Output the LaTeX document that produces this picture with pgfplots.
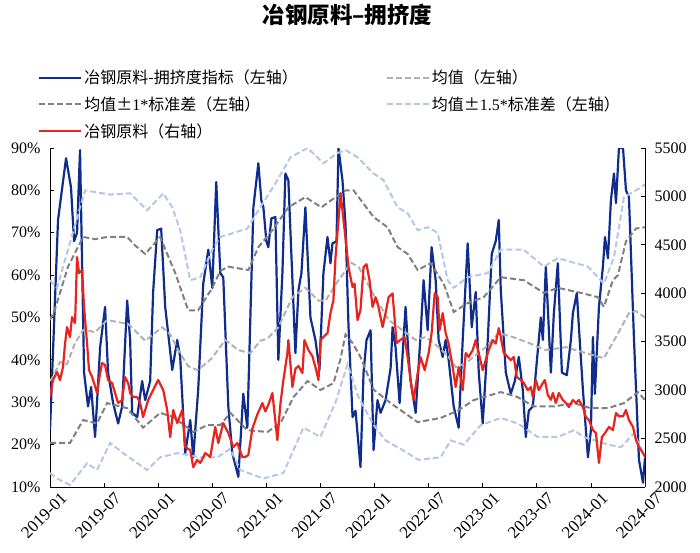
\documentclass[border=0pt]{standalone}
\usepackage{fontspec}
\setmainfont{Liberation Serif}
\newfontfamily\cjk{Noto Sans CJK SC}
\usepackage{pgfplots}
\pgfplotsset{compat=1.18}
\definecolor{cblue}{RGB}{16,44,140}
\definecolor{cred}{RGB}{232,36,30}
\definecolor{cmean}{RGB}{178,178,178}
\definecolor{csd}{RGB}{128,128,128}
\definecolor{csdb}{RGB}{180,199,231}
\pgfplotsset{
  common/.style={
    at={(0pt,0pt)}, anchor=south west,
    scale only axis, width=595pt, height=339pt,
    xmin=0, xmax=66,
    tick align=inside, major tick length=4pt,
    tick style={black, line width=0.8pt},
    axis line style={black, line width=0.8pt},
    every tick label/.append style={font=\fontsize{16}{19}\selectfont},
    /pgf/number format/assume math mode=true,
    /pgf/number format/1000 sep={},
  },
  dsh/.style={dash pattern=on 6pt off 3pt, line width=2pt},
}
\begin{document}
\begin{tikzpicture}
\useasboundingbox (-50pt,-66pt) rectangle (650pt,487pt);
\begin{axis}[common,
  ymin=10, ymax=90,
  axis x line*=bottom, axis y line*=left,
  xtick={0,6,...,66},
  xticklabels={2019-01,2019-07,2020-01,2020-07,2021-01,2021-07,2022-01,2022-07,2023-01,2023-07,2024-01,2024-07},
  xticklabel style={rotate=45, anchor=north east, inner sep=1pt, yshift=-9pt, xshift=5pt, font=\fontsize{17}{20}\selectfont},
  ytick={10,20,...,90},
  yticklabel={\pgfmathprintnumber{\tick}\%},
  yticklabel style={xshift=-6pt},
  title={\cjk\bfseries 冶钢原料–拥挤度},
  title style={at={(0.5,1)}, anchor=center, yshift=127pt, font=\fontsize{22.5}{26}\selectfont},
  legend columns=2,
  legend style={at={(-0.0202,1.236)}, anchor=north west, draw=none, fill=none,
    font=\fontsize{16}{19}\selectfont, inner sep=0pt, row sep=7.5pt,
    /tikz/every even column/.append style={column sep=86pt}},
  legend cell align=left,
  legend image code/.code={\draw[#1] (0pt,0pt) -- (42pt,0pt);},
]
\addplot[cblue, line width=2.2pt, line join=round] coordinates {
(0,23.4)(0.89,73)(1.78,87.6)(2.33,80.7)(2.67,68)(3,70)(3.33,89.5)(3.78,37)(4.22,29)(4.56,33.6)(5,21.8)(5.56,43)(6.11,52.5)(6.44,37)(7,29.8)(7.56,25)(8,29)(8.56,54)(8.89,44.7)(9.11,27.5)(9.67,26.5)(10.22,35)(10.56,30.5)(11.11,35)(11.44,56)(11.89,70.6)(12.33,71)(12.78,52.5)(13.56,37.6)(14.11,44.7)(14.44,40.7)(15,18)(15.56,25.8)(15.89,17)(16.44,33)(17,58)(17.56,66)(18,57)(18.44,82)(18.89,60.5)(19.22,59.5)(19.78,29)(20.22,18)(20.89,12.4)(21.44,32)(21.89,24)(22.56,76)(23.11,86.4)(23.44,77.7)(23.67,76)(24,68)(24.22,66.6)(24.56,73.4)(25,73.7)(25.33,40)(25.78,60.5)(26.11,84)(26.44,82.4)(27.22,41.6)(27.56,56.5)(27.89,60.5)(28.33,76)(28.89,50)(29.44,44.7)(29.89,37.6)(30.33,60.5)(30.78,69)(31.11,62.8)(31.33,67.5)(31.78,68)(32,90)(32.44,82.4)(32.78,72)(33.11,48)(33.56,26.5)(33.89,28)(34.44,14.7)(34.78,37)(35.11,44.7)(35.56,47)(35.89,18.7)(36.33,30.5)(36.67,27.5)(37.22,30.5)(37.78,38)(38,47.7)(38.33,43)(38.78,29.8)(39.44,52.5)(39.78,40.7)(40,35)(40.56,27.5)(41.11,46)(41.44,58.8)(41.89,47)(42.33,66.6)(42.78,58.8)(43.11,44.7)(43.56,40.7)(43.89,44.7)(44.22,40)(44.78,29)(45.33,24)(45.78,44.7)(46.33,67.5)(46.78,47.7)(47.22,56)(47.56,37)(48,25)(48.56,44.7)(49,65)(49.44,68)(49.78,73)(50,56.5)(50.56,37)(51.11,32)(51.56,35)(52,40.7)(52.44,33)(52.78,21.8)(53.11,28)(53.56,29)(53.89,37)(54.44,50)(54.67,44.7)(55,62)(55.56,37)(55.89,51)(56.33,62.8)(56.78,37)(57.33,36.4)(57.78,44.7)(58,51)(58.44,55.8)(58.67,47.7)(59.11,33)(59.67,17)(60,23.4)(60.22,45.4)(60.44,32)(60.89,52.5)(61.33,62)(61.56,69)(61.89,64)(62.22,77.7)(62.56,84)(62.78,77)(63.11,90)(63.56,90)(63.89,80)(64.22,78.4)(64.78,44.7)(65.33,16.4)(65.78,11)(66,17)
};
\addlegendentry{\cjk 冶钢原料-拥挤度指标（左轴）}
\addplot[cmean, dsh] coordinates {
(0,35)(0.33,36)(1.11,39.5)(1.89,39)(2.78,44)(3.67,47)(4.11,47)(5,46.5)(6.33,49.4)(8.11,48.7)(8.67,48.5)(10.56,44.5)(12.44,47.7)(13.33,46)(14.22,42.3)(15.33,38.5)(16.33,37.6)(17.22,39)(18,40.5)(19.44,44.7)(20.89,42.3)(22.22,41.6)(23.33,44.5)(24.11,45)(25.33,47.7)(26.89,54.8)(28.33,57)(29.78,54)(30.56,54)(32,58.8)(32.78,61)(33.33,63)(34.22,62)(35.78,55.8)(37.56,49.4)(39.11,47)(40.56,44.7)(41.67,45.4)(43.11,43)(44.22,40.7)(45,38.3)(46.11,39.2)(48.33,43)(49.78,46.3)(51.33,45.4)(53.11,44)(55,42.3)(57.22,43)(59.44,41.6)(61.44,40.4)(62.78,45.4)(64.22,51)(65,51.5)(66,50)
};
\addlegendentry{\cjk 均值（左轴）}
\addplot[csd, dsh] coordinates {
(0,49.4)(0.56,52)(2,62)(3.67,69)(5,68.5)(6.33,69)(8.56,69)(9.44,67)(10.56,65)(12.22,69)(13.89,60.5)(15.33,51.7)(16.44,51.7)(18,57)(18.89,61)(19.78,62)(22,61.2)(23.11,66.6)(24.67,70.6)(26.44,76)(28.33,78.4)(30.11,76)(31.67,78.4)(32.78,80)(33.67,80)(35.89,73.7)(37.44,71.3)(38.56,66.6)(39.67,65)(40.78,61.2)(42.22,62.8)(43.67,58)(44.78,51.3)(46.33,53.4)(48.11,54.8)(50,59.5)(52.56,58.8)(54.78,55.8)(56.33,57)(58.89,55.8)(60.78,54.8)(61.44,52.5)(62.44,58.8)(63,60)(63.89,68)(65,71)(66,71.3)
};
\addlegendentry{{\cjk 均值±}1*{\cjk 标准差（左轴）}}
\addplot[csdb, dsh] coordinates {
(0,58.8)(0.78,57)(2,66)(3.33,76)(3.89,80)(6.67,79)(8.89,79.3)(10.78,75.3)(12.56,79.3)(13.56,76)(14.44,70.6)(15.56,58.8)(16.67,59.5)(18,66)(18.89,69)(21.89,71)(23.33,76)(25.22,82.4)(26.67,87.8)(28.56,90)(30.33,86.4)(31.89,88.8)(32.78,89.5)(34.11,87.8)(35.89,84)(37,82.4)(38.56,76)(39.67,74.6)(40.78,70.6)(41.89,71.3)(43,70)(44.11,58.8)(44.78,57)(46.33,59.5)(48.56,60.5)(50,66)(52.56,66)(54.78,62)(56.33,64)(59.67,62)(61.44,58)(62.56,64.2)(63.67,78.4)(65.56,80.7)(66,81.5)
};
\addlegendentry{{\cjk 均值±}1.5*{\cjk 标准差（左轴）}}
\addplot[csd, dsh, forget plot] coordinates {
(0,20.4)(2.22,20.4)(3.67,25.8)(5.22,25)(6.33,29.8)(8.56,28.6)(10.33,24)(12.22,27.5)(13.67,26.5)(15.89,23)(17.44,24.6)(18.89,24.6)(20,27.5)(21.89,23.4)(24.11,23)(25.56,25)(27,31.2)(28.56,35)(30,32.9)(31.44,34.5)(32.2,40)(32.78,46)(33.56,44)(34.44,40.7)(35.89,33)(37.78,29.8)(40.78,25.3)(43.33,26.3)(45.22,28)(47,30.5)(50,32.4)(51.89,31.2)(53.67,29)(55.89,29)(58.11,29.8)(60,28.6)(61.89,28.6)(63.67,29.8)(65.22,32.4)(66,30.5)
};
\addplot[csdb, dsh, forget plot] coordinates {
(0,13.3)(0.78,12)(2.22,10.5)(4.11,15.6)(5.22,14)(6.67,20.4)(8.11,18)(10.78,14)(12.22,17)(14.11,18)(16.67,17)(18.56,17)(20,19)(21.11,14)(23.67,12)(25.89,13.3)(28.11,24)(30,21.8)(31.67,30)(33,39)(34.22,31.2)(35.78,25)(37.22,21)(39.11,18.7)(40.89,16.4)(42.44,16.8)(43.33,17)(44.44,21)(45.89,20)(47.78,24.6)(50,26.3)(51.89,25)(54.11,21.8)(56.33,21.8)(58.11,23.4)(59.22,21.8)(61.89,20)(63.33,19.4)(64.78,22.7)(66,17)
};
\addlegendimage{cred, line width=2.2pt}
\addlegendentry{\cjk 冶钢原料（右轴）}
\end{axis}
\begin{axis}[common,
  ymin=2000, ymax=5500,
  axis y line*=right, axis x line=none,
  ytick={2000,2500,...,5500},
  yticklabel style={xshift=6pt},
]
\addplot[cred, line width=2.2pt, line join=round] coordinates {
(0,2929)(0.33,3104)(0.78,3187)(1.11,3104)(1.44,3238)(1.67,3480)(1.89,3651)(2.22,3548)(2.44,3754)(2.78,3692)(3,4374)(3.22,4208)(3.56,4240)(3.78,3858)(4.11,3486)(4.33,3207)(4.67,3135)(4.89,3073)(5.22,2970)(5.56,3176)(5.78,3280)(6.11,3259)(6.44,3104)(6.89,3073)(7.22,2970)(7.56,2867)(8,2898)(8.33,3135)(8.67,3073)(8.89,2970)(9.22,2929)(9.67,2929)(10,2867)(10.33,2722)(10.89,2898)(11.44,3000)(12,3104)(12.56,3000)(13,2795)(13.33,2516)(13.67,2795)(14.11,2660)(14.67,2795)(15,2413)(15.56,2380)(15.89,2206)(16.33,2280)(16.67,2248)(17.22,2350)(17.78,2310)(18.33,2620)(18.67,2454)(19.22,2660)(19.78,2557)(20.33,2413)(20.78,2454)(21.33,2310)(21.67,2310)(22,2330)(22.44,2600)(23,2750)(23.56,2867)(23.89,2780)(24.22,2850)(24.67,2970)(25.22,2485)(25.56,2860)(25.89,3104)(26.33,3383)(26.44,3517)(26.89,3032)(27.22,3220)(27.56,3250)(28,3176)(28.22,3517)(28.67,3414)(29.11,3350)(29.44,3238)(29.78,3104)(30,3517)(30.33,3548)(30.78,3589)(31.11,3795)(31.44,3930)(31.67,4374)(32,4755)(32.22,5034)(32.56,4755)(33,4374)(33.11,4270)(33.56,4064)(33.78,4100)(34.11,3723)(34.44,3826)(34.78,4270)(35.11,4300)(35.44,4136)(35.78,3858)(36.11,3960)(36.44,3858)(36.89,3651)(37.22,3795)(37.56,3960)(38,4000)(38.44,3486)(38.89,3520)(39.33,3548)(39.67,3342)(40,3104)(40.33,2898)(40.78,3176)(41.11,3340)(41.56,3207)(42,3383)(42.33,3589)(42.67,4000)(43,3960)(43.22,3620)(43.56,3795)(43.89,3589)(44.22,3480)(44.67,3238)(45,3032)(45.33,3238)(45.78,3000)(46.11,3383)(46.44,3342)(46.89,3414)(47.22,3517)(47.56,3383)(48,3207)(48.33,3310)(48.67,3414)(49.11,3517)(49.44,3480)(49.78,3640)(50,3548)(50.33,3383)(50.78,3342)(51.11,3310)(51.44,3342)(51.78,3135)(52.22,3104)(52.56,3073)(53,3000)(53.33,3032)(53.56,2929)(53.89,3104)(54.22,3000)(54.67,3073)(54.89,3104)(55.22,2950)(55.56,2900)(55.78,2970)(56.11,2867)(56.44,2970)(56.89,2898)(57.22,2867)(57.56,2826)(58,2898)(58.33,2867)(58.67,2898)(59.11,2826)(59.44,2722)(59.78,2691)(60.22,2588)(60.56,2557)(60.89,2248)(61.22,2516)(61.56,2557)(62,2620)(62.44,2588)(62.78,2764)(63.11,2730)(63.56,2730)(63.89,2795)(64.22,2691)(64.67,2620)(65,2485)(65.33,2413)(65.78,2350)(66,2310)
};
\end{axis}
\end{tikzpicture}
\end{document}
